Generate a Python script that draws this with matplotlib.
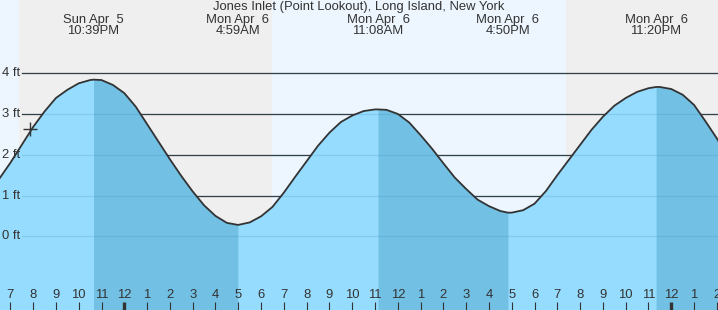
import numpy as np
import matplotlib.pyplot as plt
import matplotlib.transforms as mtransforms

plt.rcParams['font.family'] = ['Liberation Sans', 'DejaVu Sans']

# half-hour readings, hours since Sun Apr 5 00:00, heights in ft
hours = np.arange(18.0, 51.5, 0.5)
heights = [1.00, 1.40, 1.80, 2.24, 2.68, 3.06, 3.39, 3.59, 3.75, 3.83,
           3.83, 3.71, 3.51, 3.18, 2.75, 2.32, 1.89, 1.48, 1.10, 0.76,
           0.50, 0.33, 0.28, 0.34, 0.49, 0.72, 1.07, 1.46, 1.84, 2.22,
           2.54, 2.80, 2.96, 3.07, 3.11, 3.10, 3.00, 2.79, 2.48, 2.15,
           1.79, 1.44, 1.16, 0.90, 0.74, 0.62, 0.58, 0.64, 0.80, 1.11,
           1.50, 1.87, 2.24, 2.61, 2.93, 3.20, 3.39, 3.54, 3.63, 3.66,
           3.61, 3.47, 3.22, 2.82, 2.40, 1.95, 1.50]

extreme_times = [22.65, 28.983, 35.133, 40.833, 47.333]
extreme_heights = [3.84, 0.28, 3.11, 0.58, 3.66]
extreme_labels = ["Sun Apr  5\n10:39PM", "Mon Apr  6\n4:59AM", "Mon Apr  6\n11:08AM",
                  "Mon Apr  6\n4:50PM", "Mon Apr  6\n11:20PM"]

sunset_1, sunrise, sunset_2 = 19.39, 30.49, 43.40
now_time, now_height = 19.88, 2.62

grid_ft = [0, 1, 2, 3, 4]
tick_hours = list(range(19, 51))
title = "Jones Inlet (Point Lookout), Long Island, New York"

t0, t1 = 18.546, 50.05
ymin, ymax = -1.806, 5.792

day_col = '#edf6ff'
night_col = '#efefef'
water = '#96dcfe'
water_dark = '#72c0e4'
ink = '#333333'
fs = 9.4

t = np.concatenate([hours, extreme_times])
h = np.concatenate([heights, extreme_heights])
order = np.argsort(t)
t, h = t[order], h[order]

fig = plt.figure(figsize=(7.18, 3.10), dpi=100)
ax = fig.add_axes([0, 0, 1, 1])
ax.set_xlim(t0, t1)
ax.set_ylim(ymin, ymax)
ax.axis('off')

ax.axvspan(t0, sunset_1, color=day_col, lw=0, zorder=0)
ax.axvspan(sunset_1, sunrise, color=night_col, lw=0, zorder=0)
ax.axvspan(sunrise, sunset_2, color=day_col, lw=0, zorder=0)
ax.axvspan(sunset_2, t1, color=night_col, lw=0, zorder=0)

# grid lines: dark above the water, faint blue inside it
left = mtransforms.blended_transform_factory(ax.transAxes, ax.transData)
gx0 = t0 + 22 / 718 * (t1 - t0)
for g in grid_ft:
    ax.plot([gx0, t1], [g, g], color=ink, lw=0.9, zorder=1)
    ax.text(2 / 718, g, f"{g} ft", transform=left, ha='left', va='center',
            fontsize=fs, color=ink, zorder=6)

ax.fill_between(t, h, ymin, color=water, lw=0, zorder=2)
falls = [(extreme_times[0], extreme_times[1]), (extreme_times[2], extreme_times[3]),
         (extreme_times[4], t1 + 1)]
for a, b in falls:
    m = (t >= a - 1e-6) & (t <= b + 1e-6)
    ax.fill_between(t[m], h[m], ymin, color=water_dark, lw=0, zorder=2)

for g in grid_ft:
    ax.plot([gx0, t1], [g, g], color='#2a7fb0', lw=0.9, alpha=0.18, zorder=3)

ax.plot(t, h, color=ink, lw=1.3, zorder=4, solid_joinstyle='round')
ax.plot([now_time], [now_height], marker='+', ms=10, mew=1.0, color=ink, zorder=5)

top = mtransforms.blended_transform_factory(ax.transData, ax.transAxes)
ax.text((t0 + t1) / 2, 1 - 7 / 310, title, transform=top, ha='center', va='center',
        fontsize=fs, color=ink)
for et, lab in zip(extreme_times, extreme_labels):
    l1, l2 = lab.split('\n')
    ax.text(et, 1 - 19.5 / 310, l1, transform=top, ha='center', va='center', fontsize=fs, color=ink)
    ax.text(et, 1 - 31.5 / 310, l2, transform=top, ha='center', va='center', fontsize=fs, color=ink)

for hr in tick_hours:
    lab = str((hr - 1) % 12 + 1)
    ax.text(hr, 14.5 / 310, lab, transform=top, ha='center', va='center', fontsize=fs, color=ink)
    thick = hr % 24 == 0
    ax.plot([hr, hr], [0, 8 / 310], transform=top, color=ink, lw=2.4 if thick else 0.8,
            solid_capstyle='butt', zorder=6)

fig.savefig('out.png', dpi=100)
